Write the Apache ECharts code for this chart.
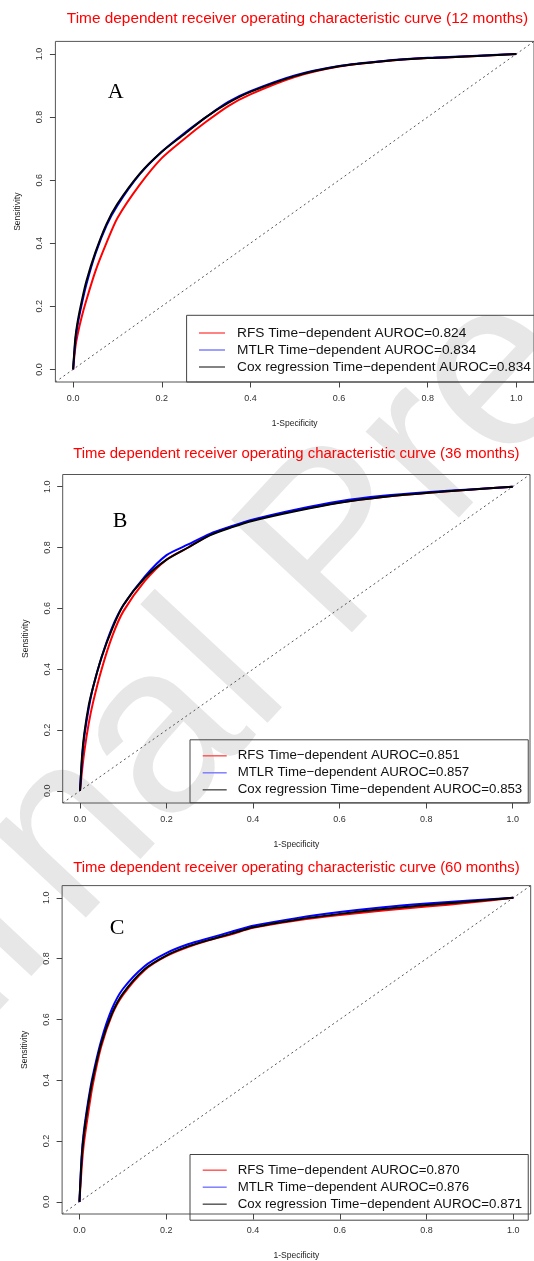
<!DOCTYPE html>
<html><head><meta charset="utf-8">
<script src="https://cdn.jsdelivr.net/npm/echarts@6/dist/echarts.min.js"></script>
<style>html,body{margin:0;padding:0;background:#fff}#c{width:534px;height:1261px}</style>
</head><body><div id="c"></div>
<script>
// ---- data ----
const tickValues = [0, 0.2, 0.4, 0.6, 0.8, 1.0];
const tickLabels = ['0.0', '0.2', '0.4', '0.6', '0.8', '1.0'];
const panelTitles = [
  'Time dependent receiver operating characteristic curve (12 months)',
  'Time dependent receiver operating characteristic curve (36 months)',
  'Time dependent receiver operating characteristic curve (60 months)'
];
const panelLetters = ['A', 'B', 'C'];
const modelNames = ['RFS', 'MTLR', 'Cox regression'];
const aurocA = ['0.824', '0.834', '0.834'];
const aurocB = ['0.851', '0.857', '0.853'];
const aurocC = ['0.870', '0.876', '0.871'];
const fpr = [0, 0.005, 0.01, 0.02, 0.03, 0.05, 0.075, 0.1, 0.15, 0.2, 0.25, 0.3, 0.35, 0.4, 0.5, 0.6, 0.7, 0.8, 0.9, 1];
// 12 months
const tprA_RFS  = [0, 0.07, 0.11, 0.17, 0.22, 0.31, 0.40, 0.48, 0.585, 0.67, 0.73, 0.785, 0.835, 0.872, 0.927, 0.96, 0.977, 0.987, 0.993, 1];
const tprA_MTLR = [0, 0.09, 0.14, 0.21, 0.27, 0.365, 0.455, 0.52, 0.618, 0.69, 0.748, 0.80, 0.848, 0.882, 0.932, 0.962, 0.978, 0.988, 0.994, 1];
const tprA_Cox  = [0, 0.10, 0.15, 0.22, 0.28, 0.37, 0.46, 0.525, 0.62, 0.69, 0.745, 0.80, 0.845, 0.88, 0.93, 0.961, 0.977, 0.987, 0.993, 1];
// 36 months
const tprB_RFS  = [0, 0.07, 0.13, 0.22, 0.29, 0.40, 0.51, 0.59, 0.69, 0.76, 0.80, 0.842, 0.868, 0.89, 0.922, 0.948, 0.966, 0.979, 0.99, 1];
const tprB_MTLR = [0, 0.11, 0.18, 0.27, 0.34, 0.44, 0.54, 0.61, 0.705, 0.775, 0.81, 0.845, 0.87, 0.892, 0.925, 0.952, 0.97, 0.982, 0.991, 1];
const tprB_Cox  = [0, 0.12, 0.19, 0.28, 0.34, 0.44, 0.535, 0.61, 0.70, 0.76, 0.80, 0.84, 0.866, 0.888, 0.92, 0.947, 0.966, 0.979, 0.99, 1];
// 60 months
const tprC_RFS  = [0, 0.11, 0.19, 0.29, 0.38, 0.51, 0.615, 0.68, 0.762, 0.808, 0.838, 0.861, 0.88, 0.901, 0.925, 0.943, 0.958, 0.971, 0.984, 1];
const tprC_MTLR = [0, 0.15, 0.23, 0.33, 0.41, 0.53, 0.635, 0.70, 0.775, 0.818, 0.847, 0.868, 0.888, 0.908, 0.933, 0.953, 0.969, 0.981, 0.991, 1];
const tprC_Cox  = [0, 0.14, 0.22, 0.32, 0.40, 0.52, 0.62, 0.685, 0.765, 0.81, 0.84, 0.862, 0.882, 0.903, 0.928, 0.947, 0.963, 0.976, 0.988, 1];
const diagonal = [-0.04, 1.04];
const axisRange = [-0.04, 1.04];
const watermarkText = 'Journal Pre-proof';

// ---- layout / style ----
const FONT = '"Liberation Sans", Arial, sans-serif';
const grids = [
  { left: 55.4, top: 41.4, width: 484.2, height: 340.6 },
  { left: 62.7, top: 474.5, width: 467.3, height: 328.5 },
  { left: 62.1, top: 885.6, width: 468.6, height: 334.4 }
];
const legends = [
  { left: 186.6, top: 315.3, padding: [10.7, 30, 8, 12.4], itemWidth: 26, tp: 7, fs: 13.7 },
  { left: 190, top: 739.8, padding: [9, 6, 6, 12.7], itemWidth: 24, tp: 6, fs: 13.25 },
  { left: 190, top: 1154.5, padding: [8.7, 6, 9, 12.7], itemWidth: 24, tp: 6, fs: 13.25 }
];
const titleFont = [15.4, 14.9, 14.9];
const titleY = [18.7, 454, 868];
const letterPos = [[115.8, 92], [120, 521.5], [117, 928]];
const colors = ['#ff0000', '#0000ff', '#000000'];
const legendColors = ['#ff5a5a', '#7f7fff', '#5a5a5a'];
const tprs = [[tprA_RFS, tprA_MTLR, tprA_Cox], [tprB_RFS, tprB_MTLR, tprB_Cox], [tprC_RFS, tprC_MTLR, tprC_Cox]];
const aurocs = [aurocA, aurocB, aurocC];

const option = { animation: false, backgroundColor: '#fff', grid: [], xAxis: [], yAxis: [], series: [], legend: [], graphic: [] };

// faint page watermark (behind everything)
option.graphic.push({
  type: 'text', x: 340, y: 548, rotation: 47 * Math.PI / 180, z: -10, silent: true,
  style: { text: watermarkText, fill: '#e7e7e7', font: '240px ' + FONT, textAlign: 'center', textVerticalAlign: 'middle' }
});

grids.forEach((g, p) => {
  option.grid.push(Object.assign({ show: true, borderColor: '#555', borderWidth: 1, backgroundColor: 'transparent' }, g));
  const common = {
    gridIndex: p, type: 'value', min: axisRange[0], max: axisRange[1],
    splitLine: { show: false },
    axisLine: { show: false, onZero: false },
    axisTick: { show: true, length: 5.5, customValues: tickValues, lineStyle: { color: '#444' } },
    axisLabel: { customValues: tickValues, color: '#333', fontSize: 9, fontFamily: FONT,
      formatter: v => tickLabels[tickValues.findIndex(t => Math.abs(t - v) < 1e-9)] || '' },
    nameLocation: 'middle', nameTextStyle: { color: '#222', fontSize: 8.5, fontFamily: FONT }
  };
  option.xAxis.push(Object.assign({}, common, { position: 'bottom', name: '1-Specificity', nameGap: 37,
    axisLabel: Object.assign({}, common.axisLabel, { margin: 12 }) }));
  option.yAxis.push(Object.assign({}, common, { position: 'left', name: 'Sensitivity', nameGap: 33,
    axisLabel: Object.assign({}, common.axisLabel, { margin: 11, rotate: 90 }) }));

  // diagonal reference
  option.series.push({
    type: 'line', xAxisIndex: p, yAxisIndex: p, silent: true, symbol: 'none',
    data: diagonal.map(v => [v, v]),
    lineStyle: { color: '#555', width: 1, type: [2, 3] }, z: 1
  });
  const names = [];
  modelNames.forEach((m, i) => {
    const name = m + ' Time\u2212dependent AUROC=' + aurocs[p][i];
    names.push({ name, itemStyle: { color: legendColors[i] } });
    option.series.push({
      name, type: 'line', xAxisIndex: p, yAxisIndex: p, symbol: 'none', smooth: 0.25,
      data: fpr.map((x, k) => [x, tprs[p][i][k]]),
      lineStyle: { color: colors[i], width: 2 }, itemStyle: { color: colors[i] }, z: 2 + i
    });
  });
  const L = legends[p];
  option.legend.push({
    left: L.left, top: L.top, padding: L.padding,
    orient: 'vertical', data: names, icon: 'rect', itemWidth: L.itemWidth, itemHeight: 1.5, itemGap: 3,
    borderColor: '#444', borderWidth: 1, backgroundColor: 'transparent', selectedMode: false,
    textStyle: { fontSize: L.fs, fontFamily: FONT, color: '#111', lineHeight: 14, padding: [0, 0, 0, L.tp] }
  });

  option.graphic.push({
    type: 'text', x: g.left + g.width / 2, y: titleY[p],
    style: { text: panelTitles[p], fill: '#ff0000', font: titleFont[p] + 'px ' + FONT, textAlign: 'center', textVerticalAlign: 'middle' }
  });
  option.graphic.push({
    type: 'text', x: letterPos[p][0], y: letterPos[p][1],
    style: { text: panelLetters[p], fill: '#000', font: '22px "Liberation Serif", "Times New Roman", serif', textAlign: 'center', textVerticalAlign: 'middle' }
  });
});

const chart = echarts.init(document.getElementById('c'), null, { renderer: 'canvas' });
chart.setOption(option);
</script></body></html>
